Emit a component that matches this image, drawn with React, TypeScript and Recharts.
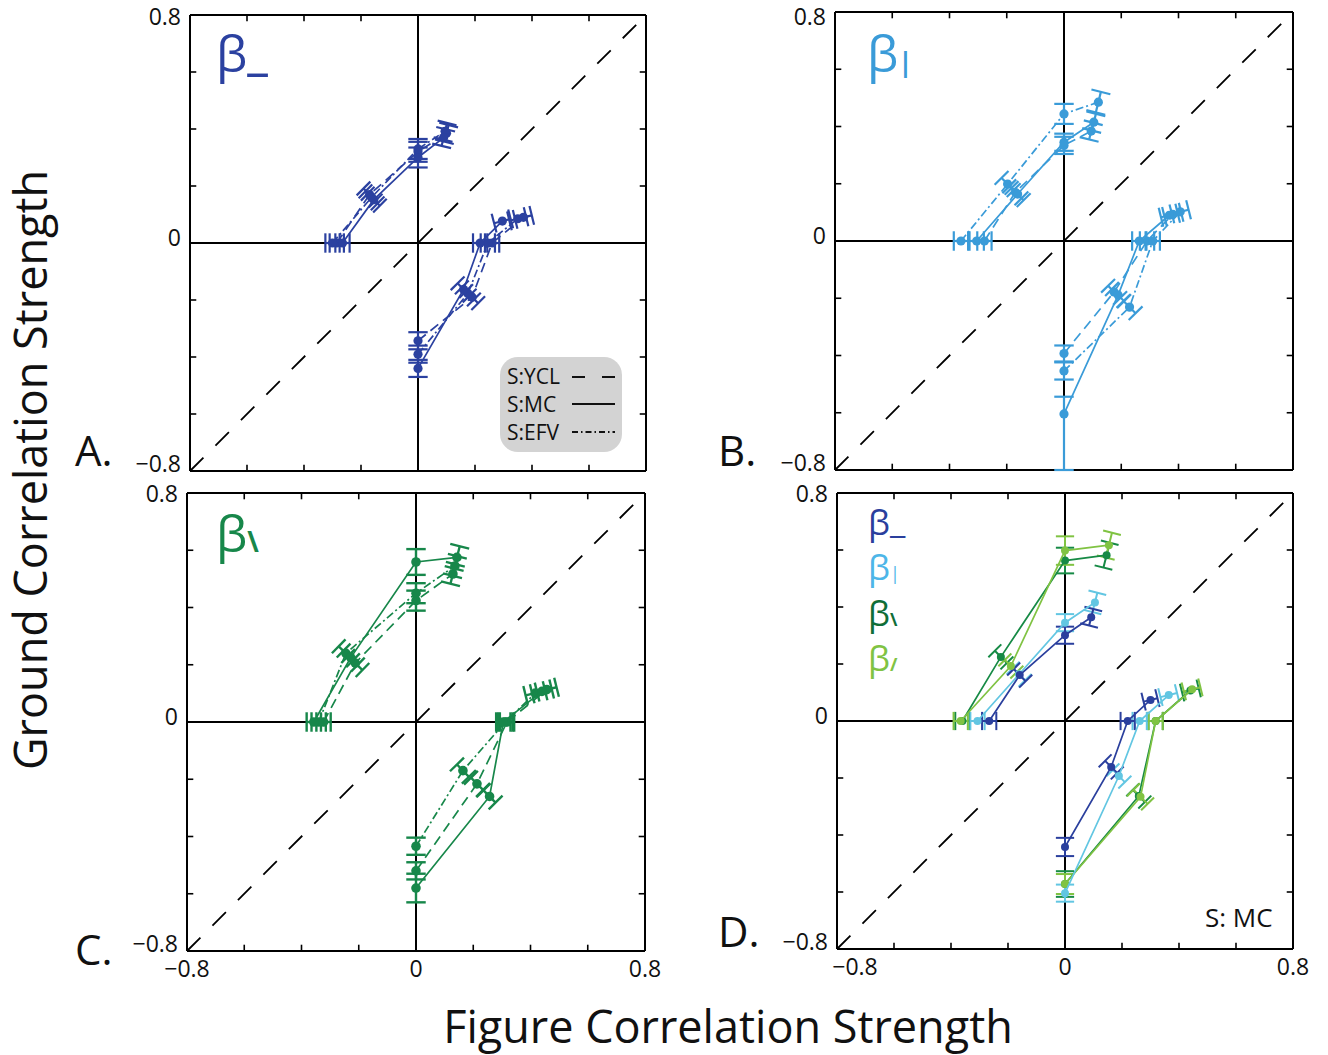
import React from 'react';
import { ScatterChart, Scatter, XAxis, YAxis, ReferenceLine } from 'recharts';

type Pt = { x: number; y: number; e: number; eo?: number };

// ---------- Panel A (β_) ----------
const aYclUpper: Pt[] = [
  { x: -0.285, y: 0, e: 0.025 }, { x: -0.17, y: 0.17, e: 0.03 }, { x: 0, y: 0.32, e: 0.035 }, { x: 0.1, y: 0.385, e: 0.03 },
];
const aMcUpper: Pt[] = [
  { x: -0.265, y: 0, e: 0.025 }, { x: -0.155, y: 0.152, e: 0.03 }, { x: 0, y: 0.3, e: 0.035 }, { x: 0.09, y: 0.37, e: 0.03 },
];
const aEfvUpper: Pt[] = [
  { x: -0.3, y: 0, e: 0.025 }, { x: -0.163, y: 0.16, e: 0.03 }, { x: 0, y: 0.33, e: 0.035 }, { x: 0.095, y: 0.392, e: 0.03 },
];
const aYclLower: Pt[] = [
  { x: 0, y: -0.343, e: 0.03 }, { x: 0.19, y: -0.19, e: 0.03 }, { x: 0.26, y: 0, e: 0.025 }, { x: 0.37, y: 0.09, e: 0.03 },
];
const aMcLower: Pt[] = [
  { x: 0, y: -0.44, e: 0.03 }, { x: 0.16, y: -0.163, e: 0.03 }, { x: 0.218, y: 0, e: 0.025 }, { x: 0.296, y: 0.077, e: 0.03 },
];
const aEfvLower: Pt[] = [
  { x: 0, y: -0.39, e: 0.03 }, { x: 0.175, y: -0.177, e: 0.03 }, { x: 0.245, y: 0, e: 0.025 }, { x: 0.35, y: 0.085, e: 0.03 },
];

// ---------- Panel B (β|) ----------
const bYclUpper: Pt[] = [
  { x: -0.278, y: 0, e: 0.025 }, { x: -0.17, y: 0.17, e: 0.03 }, { x: 0, y: 0.334, e: 0.03 }, { x: 0.095, y: 0.384, e: 0.03 },
];
const bMcUpper: Pt[] = [
  { x: -0.305, y: 0, e: 0.025 }, { x: -0.162, y: 0.164, e: 0.03 }, { x: 0, y: 0.345, e: 0.03 }, { x: 0.104, y: 0.415, e: 0.03 },
];
const bEfvUpper: Pt[] = [
  { x: -0.36, y: 0, e: 0.025 }, { x: -0.197, y: 0.199, e: 0.03 }, { x: 0, y: 0.444, e: 0.035 }, { x: 0.12, y: 0.485, e: 0.037 },
];
const bYclLower: Pt[] = [
  { x: 0, y: -0.393, e: 0.028 }, { x: 0.175, y: -0.178, e: 0.03 }, { x: 0.29, y: 0, e: 0.025 }, { x: 0.38, y: 0.093, e: 0.03 },
];
const bMcLower: Pt[] = [
  { x: 0, y: -0.604, e: 0.06, eo: 0.196 }, { x: 0.189, y: -0.189, e: 0.03 }, { x: 0.263, y: 0, e: 0.025 }, { x: 0.368, y: 0.09, e: 0.03 },
];
const bEfvLower: Pt[] = [
  { x: 0, y: -0.454, e: 0.03 }, { x: 0.229, y: -0.231, e: 0.03 }, { x: 0.31, y: 0, e: 0.025 }, { x: 0.406, y: 0.102, e: 0.03 },
];

// ---------- Panel C (β\) ----------
const cYclUpper: Pt[] = [
  { x: -0.323, y: 0, e: 0.025 }, { x: -0.212, y: 0.206, e: 0.035 }, { x: 0, y: 0.424, e: 0.035 }, { x: 0.129, y: 0.517, e: 0.035 },
];
const cMcUpper: Pt[] = [
  { x: -0.357, y: 0, e: 0.025 }, { x: -0.228, y: 0.225, e: 0.035 }, { x: 0, y: 0.559, e: 0.045 }, { x: 0.143, y: 0.575, e: 0.04 },
];
const cEfvUpper: Pt[] = [
  { x: -0.34, y: 0, e: 0.025 }, { x: -0.245, y: 0.24, e: 0.035 }, { x: 0, y: 0.45, e: 0.035 }, { x: 0.136, y: 0.545, e: 0.035 },
];
const cYclLower: Pt[] = [
  { x: 0, y: -0.52, e: 0.03 }, { x: 0.213, y: -0.216, e: 0.03 }, { x: 0.318, y: 0, e: 0.025 }, { x: 0.457, y: 0.113, e: 0.035 },
];
const cMcLower: Pt[] = [
  { x: 0, y: -0.58, e: 0.05 }, { x: 0.257, y: -0.26, e: 0.03 }, { x: 0.305, y: 0, e: 0.025 }, { x: 0.44, y: 0.107, e: 0.035 },
];
const cEfvLower: Pt[] = [
  { x: 0, y: -0.434, e: 0.03 }, { x: 0.164, y: -0.17, e: 0.03 }, { x: 0.312, y: 0, e: 0.025 }, { x: 0.417, y: 0.101, e: 0.035 },
];

// ---------- Panel D (S: MC, all four) ----------
const dHorizUpper: Pt[] = [
  { x: -0.266, y: 0, e: 0.025 }, { x: -0.159, y: 0.161, e: 0.03 }, { x: 0, y: 0.301, e: 0.03 }, { x: 0.092, y: 0.364, e: 0.03 },
];
const dHorizLower: Pt[] = [
  { x: 0, y: -0.442, e: 0.032 }, { x: 0.162, y: -0.161, e: 0.03 }, { x: 0.22, y: 0, e: 0.025 }, { x: 0.3, y: 0.074, e: 0.025 },
];
const dVertUpper: Pt[] = [
  { x: -0.307, y: 0, e: 0.025 }, { x: -0.161, y: 0.164, e: 0.03 }, { x: 0, y: 0.345, e: 0.03 }, { x: 0.105, y: 0.416, e: 0.035 },
];
const dVertLower: Pt[] = [
  { x: 0, y: -0.604, e: 0.03 }, { x: 0.189, y: -0.193, e: 0.03 }, { x: 0.262, y: 0, e: 0.025 }, { x: 0.364, y: 0.091, e: 0.03 },
];
const dBackUpper: Pt[] = [
  { x: -0.36, y: 0, e: 0.025 }, { x: -0.225, y: 0.225, e: 0.03 }, { x: 0, y: 0.563, e: 0.045 }, { x: 0.146, y: 0.582, e: 0.045 },
];
const dBackLower: Pt[] = [
  { x: 0, y: -0.572, e: 0.045 }, { x: 0.259, y: -0.263, e: 0.03 }, { x: 0.318, y: 0, e: 0.025 }, { x: 0.44, y: 0.107, e: 0.03 },
];
const dFwdUpper: Pt[] = [
  { x: -0.366, y: 0, e: 0.025 }, { x: -0.19, y: 0.193, e: 0.03 }, { x: 0, y: 0.598, e: 0.05 }, { x: 0.154, y: 0.617, e: 0.045 },
];
const dFwdLower: Pt[] = [
  { x: 0, y: -0.572, e: 0.035 }, { x: 0.265, y: -0.266, e: 0.035 }, { x: 0.318, y: 0, e: 0.025 }, { x: 0.446, y: 0.111, e: 0.03 },
];

// ---------- axis ticks ----------
const LABEL_TICKS = [-0.8, 0, 0.8];
const MINOR_TICKS = [-0.6, -0.4, -0.2, 0.2, 0.4, 0.6];
const DOMAIN: [number, number] = [-0.8, 0.8];

const FONT = "'Open Sans', 'DejaVu Sans', sans-serif";
const C_BLUE = '#2B41A0';
const C_SKY = '#3A9BD8';
const C_GREEN = '#17874A';
const D_BLUE = '#2A3F9D';
const D_SKY = '#62C6E2';
const D_DKGREEN = '#168A45';
const D_LTGREEN = '#80C343';

const DASH_YCL = '10 6';
const DASH_EFV = '8 3 2 3';

type Series = { data: Pt[]; color: string; dash?: string };

const fmt = (v: number) => (v === 0 ? '0' : v < 0 ? '\u2212' + String(Math.abs(v)) : String(v));

const makeYTick = (topDy: number) => (p: any) => {
  const v = p.payload.value;
  const dy = v > 0 ? topDy : v === 0 ? 3 : 1;
  return (
    <text x={p.x - 1} y={p.y} dy={dy} textAnchor="end" fontSize={23} fontFamily={FONT} fill="#111">
      {fmt(v)}
    </text>
  );
};

const makeXTick = (firstDx: number) => (p: any) => {
  const v = p.payload.value;
  return (
    <text x={p.x + (v < 0 ? firstDx : 0)} y={p.y} dy={18} textAnchor="middle" fontSize={23} fontFamily={FONT} fill="#111">
      {fmt(v)}
    </text>
  );
};

function errorBar(p: Pt, cap: number) {
  const r = Math.hypot(p.x, p.y);
  const ux = p.x / r;
  const uy = p.y / r;
  const vx = -uy;
  const vy = ux;
  const eo = p.eo ?? p.e;
  const a = { x: p.x - p.e * ux, y: p.y - p.e * uy };
  const b = { x: p.x + eo * ux, y: p.y + eo * uy };
  return [
    [a, b],
    [{ x: a.x - cap * vx, y: a.y - cap * vy }, { x: a.x + cap * vx, y: a.y + cap * vy }],
    [{ x: b.x - cap * vx, y: b.y - cap * vy }, { x: b.x + cap * vx, y: b.y + cap * vy }],
  ];
}

type PanelProps = {
  left: number;
  top: number;
  size: number;
  showX: boolean;
  series: Series[];
  dotR: number;
  barW: number;
  lineW: number;
  cap: number;
  firstDx?: number;
  topDy?: number;
};

function Panel({ left, top, size, showX, series, dotR, barW, lineW, cap, firstDx = 0, topDy = 9 }: PanelProps) {
  const ML = 70, MT = 20, MR = 20, MB = 10, XH = 40;
  const w = ML + size + MR;
  const h = MT + size + (showX ? XH : 0) + MB;
  const tl = 0.022;
  const XTick = makeXTick(firstDx);
  const YTick = makeYTick(topDy);
  const refs: React.ReactNode[] = [];
  MINOR_TICKS.forEach((t, i) => {
    refs.push(<ReferenceLine key={'tb' + i} segment={[{ x: t, y: -0.8 }, { x: t, y: -0.8 + tl }]} stroke="#000" strokeWidth={1.6} ifOverflow="visible" />);
    refs.push(<ReferenceLine key={'tt' + i} segment={[{ x: t, y: 0.8 }, { x: t, y: 0.8 - tl }]} stroke="#000" strokeWidth={1.6} ifOverflow="visible" />);
    refs.push(<ReferenceLine key={'tl' + i} segment={[{ x: -0.8, y: t }, { x: -0.8 + tl, y: t }]} stroke="#000" strokeWidth={1.6} ifOverflow="visible" />);
    refs.push(<ReferenceLine key={'tr' + i} segment={[{ x: 0.8, y: t }, { x: 0.8 - tl, y: t }]} stroke="#000" strokeWidth={1.6} ifOverflow="visible" />);
  });
  const bars: React.ReactNode[] = [];
  series.forEach((s, si) => {
    s.data.forEach((p, pi) => {
      errorBar(p, cap).forEach((seg, k) => {
        bars.push(
          <ReferenceLine
            key={`e${si}-${pi}-${k}`}
            segment={seg}
            stroke={s.color}
            strokeWidth={barW}
            ifOverflow="visible"
          />
        );
      });
    });
  });
  return (
    <div style={{ position: 'absolute', left: left - ML, top: top - MT }}>
      <ScatterChart width={w} height={h} margin={{ top: MT, right: MR, bottom: MB, left: 0 }}>
        <XAxis
          type="number"
          dataKey="x"
          domain={DOMAIN}
          ticks={LABEL_TICKS}
          hide={!showX}
          height={XH}
          tick={(p: any) => <XTick {...p} />}
          tickLine={false}
          axisLine={false}
          allowDataOverflow
        />
        <YAxis
          type="number"
          dataKey="y"
          domain={DOMAIN}
          ticks={LABEL_TICKS}
          width={ML}
          tick={(p: any) => <YTick {...p} />}
          tickLine={false}
          axisLine={false}
          allowDataOverflow
        />
        <ReferenceLine segment={[{ x: -0.8, y: -0.8 }, { x: 0.8, y: 0.8 }]} stroke="#000" strokeWidth={1.8} strokeDasharray="19 17" ifOverflow="visible" />
        <ReferenceLine x={0} stroke="#000" strokeWidth={2} ifOverflow="visible" />
        <ReferenceLine y={0} stroke="#000" strokeWidth={2} ifOverflow="visible" />
        <ReferenceLine x={-0.8} stroke="#000" strokeWidth={2} ifOverflow="visible" />
        <ReferenceLine x={0.8} stroke="#000" strokeWidth={2} ifOverflow="visible" />
        <ReferenceLine y={-0.8} stroke="#000" strokeWidth={2} ifOverflow="visible" />
        <ReferenceLine y={0.8} stroke="#000" strokeWidth={2} ifOverflow="visible" />
        {refs}
        {bars}
        {series.map((s, i) => (
          <Scatter
            key={'s' + i}
            data={s.data}
            fill={s.color}
            line={{ stroke: s.color, strokeWidth: lineW, strokeDasharray: s.dash }}
            shape={(p: any) => <circle cx={p.cx} cy={p.cy} r={dotR} fill={s.color} />}
            isAnimationActive={false}
          />
        ))}
      </ScatterChart>
    </div>
  );
}

const seriesA: Series[] = [
  { data: aYclUpper, color: C_BLUE, dash: DASH_YCL },
  { data: aYclLower, color: C_BLUE, dash: DASH_YCL },
  { data: aEfvUpper, color: C_BLUE, dash: DASH_EFV },
  { data: aEfvLower, color: C_BLUE, dash: DASH_EFV },
  { data: aMcUpper, color: C_BLUE },
  { data: aMcLower, color: C_BLUE },
];
const seriesB: Series[] = [
  { data: bYclUpper, color: C_SKY, dash: DASH_YCL },
  { data: bYclLower, color: C_SKY, dash: DASH_YCL },
  { data: bEfvUpper, color: C_SKY, dash: DASH_EFV },
  { data: bEfvLower, color: C_SKY, dash: DASH_EFV },
  { data: bMcUpper, color: C_SKY },
  { data: bMcLower, color: C_SKY },
];
const seriesC: Series[] = [
  { data: cYclUpper, color: C_GREEN, dash: DASH_YCL },
  { data: cYclLower, color: C_GREEN, dash: DASH_YCL },
  { data: cEfvUpper, color: C_GREEN, dash: DASH_EFV },
  { data: cEfvLower, color: C_GREEN, dash: DASH_EFV },
  { data: cMcUpper, color: C_GREEN },
  { data: cMcLower, color: C_GREEN },
];
const seriesD: Series[] = [
  { data: dBackUpper, color: D_DKGREEN },
  { data: dBackLower, color: D_DKGREEN },
  { data: dFwdUpper, color: D_LTGREEN },
  { data: dFwdLower, color: D_LTGREEN },
  { data: dVertUpper, color: D_SKY },
  { data: dVertLower, color: D_SKY },
  { data: dHorizUpper, color: D_BLUE },
  { data: dHorizLower, color: D_BLUE },
];

export default function App() {
  return (
    <div style={{ position: 'absolute', left: 0, top: 0, width: 1328, height: 1055, background: '#fff', overflow: 'hidden' }}>
      <Panel left={190} top={15} size={456} showX={false} series={seriesA} dotR={4.6} barW={2.2} lineW={1.7} cap={0.034} topDy={10} />
      <Panel left={835} top={12} size={458} showX={false} series={seriesB} dotR={4.6} barW={2.2} lineW={1.7} cap={0.034} topDy={13} />
      <Panel left={187} top={493} size={458} showX={true} series={seriesC} dotR={4.8} barW={2.4} lineW={1.7} cap={0.034} />
      <Panel left={837} top={493} size={456} showX={true} series={seriesD} dotR={4} barW={2} lineW={1.7} cap={0.032} firstDx={18} />
      <svg width={1328} height={1055} style={{ position: 'absolute', left: 0, top: 0, pointerEvents: 'none' }} fontFamily={FONT}>
        {/* axis titles */}
        <text x={0} y={0} transform="translate(47,470) rotate(-90)" textAnchor="middle" fontSize={45} fill="#111">
          Ground Correlation Strength
        </text>
        <text x={728} y={1043} textAnchor="middle" fontSize={45} fill="#111">
          Figure Correlation Strength
        </text>
        {/* panel letters */}
        <text x={75} y={466} fontSize={42} fill="#111">A.</text>
        <text x={718} y={466} fontSize={42} fill="#111">B.</text>
        <text x={75} y={965} fontSize={42} fill="#111">C.</text>
        <text x={718} y={947} fontSize={42} fill="#111">D.</text>
        {/* panel titles */}
        <text x={216} y={72} fontSize={50} fill={C_BLUE}>
          β<tspan dy={-3} fontWeight={700}>_</tspan>
        </text>
        <text x={867} y={72} fontSize={50} fill={C_SKY}>
          β<tspan fontSize={26} fontWeight={700}>|</tspan>
        </text>
        <text x={216} y={552} fontSize={50} fill={C_GREEN}>
          β<tspan fontSize={28} fontWeight={700}>\</tspan>
        </text>
        {/* legend panel A */}
        <rect x={500} y={357} width={122} height={95} rx={18} ry={18} fill="#D3D3D3" />
        <text x={507} y={384} fontSize={21} fill="#111">S:YCL</text>
        <text x={507} y={412} fontSize={21} fill="#111">S:MC</text>
        <text x={507} y={440} fontSize={21} fill="#111">S:EFV</text>
        <line x1={572} y1={377} x2={615} y2={377} stroke="#111" strokeWidth={2} strokeDasharray="13 17" />
        <line x1={572} y1={404} x2={615} y2={404} stroke="#111" strokeWidth={2} />
        <line x1={572} y1={432} x2={615} y2={432} stroke="#111" strokeWidth={2} strokeDasharray="6 3 1.5 3" />
        {/* legend panel D */}
        <text x={868} y={535} fontSize={35} fill={D_BLUE}>
          β<tspan dy={-2}>_</tspan>
        </text>
        <text x={868} y={580} fontSize={35} fill="#4DB6E8">
          β<tspan fontSize={18}>|</tspan>
        </text>
        <text x={868} y={626} fontSize={35} fill="#106E38">
          β<tspan fontSize={18} fontWeight={700}>\</tspan>
        </text>
        <text x={868} y={671} fontSize={35} fill={D_LTGREEN}>
          β<tspan fontSize={18} fontWeight={700}>/</tspan>
        </text>
        <text x={1205} y={927} fontSize={26} fill="#111">S: MC</text>
      </svg>
    </div>
  );
}
